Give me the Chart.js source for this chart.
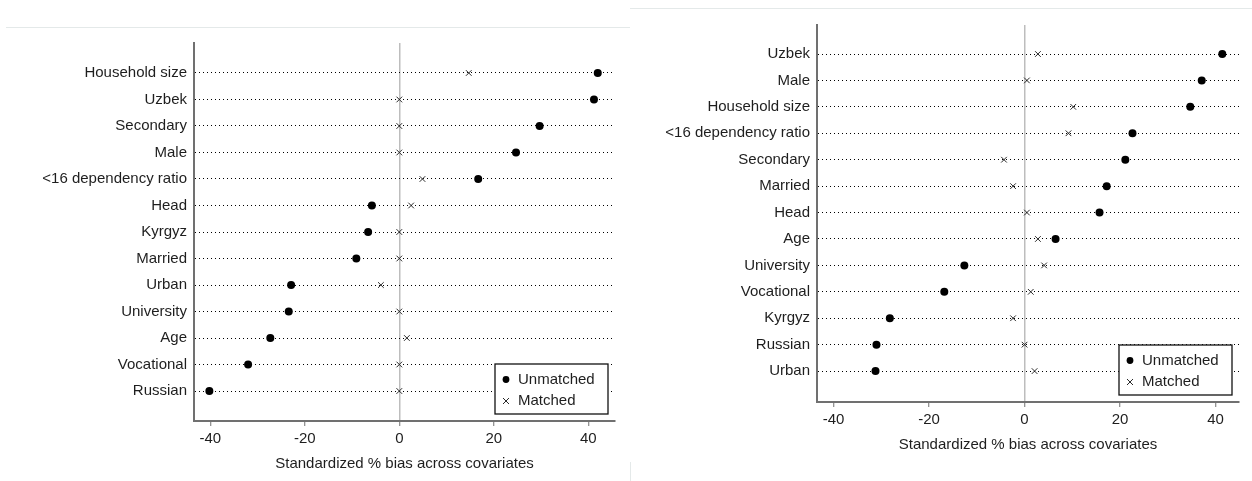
<!DOCTYPE html>
<html>
<head>
<meta charset="utf-8">
<script src="https://cdn.jsdelivr.net/npm/chart.js@4/dist/chart.umd.min.js"></script>
<style>
  html, body { margin: 0; padding: 0; background: #fff; }
  body { width: 1252px; height: 481px; position: relative; overflow: hidden; }
  .panel { position: absolute; top: 0; height: 481px; }
  #leftPanel { left: 0; width: 630px; }
  #rightPanel { left: 630px; width: 622px; }
  .rule { position: absolute; background: #e4e9e9; }
</style>
</head>
<body>
<div class="rule" style="left:6px;top:27px;width:624px;height:1px"></div>
<div class="rule" style="left:630px;top:8px;width:622px;height:1px"></div>
<div class="rule" style="left:630px;top:462px;width:1px;height:19px"></div>
<div class="panel" id="leftPanel"><canvas id="leftChart" width="630" height="481"></canvas></div>
<div class="panel" id="rightPanel"><canvas id="rightChart" width="622" height="481"></canvas></div>

<script>
// Standardized % bias per covariate, before (unmatched) and after (matched) matching.
const seriesNames = ['Unmatched', 'Matched'];
const xTickValues = [-40, -20, 0, 20, 40];
const axisTitle = 'Standardized % bias across covariates';

// First sample
const leftCovariates = ['Household size', 'Uzbek', 'Secondary', 'Male', '<16 dependency ratio', 'Head',
  'Kyrgyz', 'Married', 'Urban', 'University', 'Age', 'Vocational', 'Russian'];
const leftUnmatched = [42.0, 41.2, 29.7, 24.7, 16.7, -5.8, -6.6, -9.1, -22.9, -23.4, -27.3, -32.0, -40.2];
const leftMatched   = [14.7, 0.0, 0.0, 0.0, 4.9, 2.5, 0.0, 0.0, -3.9, 0.0, 1.6, 0.0, 0.0];

// Second sample
const rightCovariates = ['Uzbek', 'Male', 'Household size', '<16 dependency ratio', 'Secondary', 'Married',
  'Head', 'Age', 'University', 'Vocational', 'Kyrgyz', 'Russian', 'Urban'];
const rightUnmatched = [41.4, 37.1, 34.7, 22.6, 21.1, 17.2, 15.7, 6.5, -12.6, -16.8, -28.2, -31.0, -31.2];
const rightMatched   = [2.8, 0.5, 10.2, 9.2, -4.3, -2.4, 0.5, 2.8, 4.1, 1.3, -2.4, 0.0, 2.1];

const FONT = 'Arial, "Liberation Sans", sans-serif';
const FONT_SIZE = 15;
const TEXT = '#1e1e1e';
const AXIS = '#707070';

// Boxed legend drawn in the lower-right corner of the plot area
const cornerLegend = {
  id: 'cornerLegend',
  afterDraw(chart) {
    const { ctx, chartArea } = chart;
    const w = 113, h = 50;
    const x0 = chartArea.right - 7 - w;
    const y0 = chartArea.bottom - 7 - h;
    ctx.save();
    ctx.fillStyle = '#fff';
    ctx.fillRect(x0, y0, w, h);
    ctx.strokeStyle = '#111';
    ctx.lineWidth = 1.3;
    ctx.strokeRect(x0, y0, w, h);
    ctx.font = FONT_SIZE + 'px ' + FONT;
    ctx.textBaseline = 'middle';
    chart.data.datasets.forEach((ds, i) => {
      const cy = y0 + 15.5 + i * 21.5;
      const cx = x0 + 11;
      ctx.fillStyle = ds.pointBackgroundColor;
      ctx.strokeStyle = ds.pointBorderColor;
      ctx.lineWidth = ds.pointBorderWidth;
      ctx.beginPath();
      if (ds.pointStyle === 'circle') {
        ctx.arc(cx, cy, 3.4, 0, Math.PI * 2);
        ctx.fill();
      } else {
        ctx.moveTo(cx - 3, cy - 3); ctx.lineTo(cx + 3, cy + 3);
        ctx.moveTo(cx + 3, cy - 3); ctx.lineTo(cx - 3, cy + 3);
        ctx.stroke();
      }
      ctx.fillStyle = TEXT;
      ctx.fillText(ds.label, x0 + 23, cy);
    });
    ctx.restore();
  }
};

function buildChart(canvasId, covariates, unmatched, matched, layout) {
  const toPoints = (vals) => vals.map((v, i) => ({ x: v, y: i }));
  return new Chart(document.getElementById(canvasId), {
    type: 'scatter',
    data: {
      datasets: [
        {
          label: seriesNames[0],
          data: toPoints(unmatched),
          pointStyle: 'circle',
          pointRadius: 4,
          pointBackgroundColor: '#000',
          pointBorderColor: '#000',
          pointBorderWidth: 0
        },
        {
          label: seriesNames[1],
          data: toPoints(matched),
          pointStyle: 'crossRot',
          pointRadius: 4,
          pointBackgroundColor: '#2a2a2a',
          pointBorderColor: '#2a2a2a',
          pointBorderWidth: 1
        }
      ]
    },
    options: {
      responsive: false,
      animation: false,
      events: [],
      layout: { padding: layout.padding },
      plugins: { legend: { display: false }, tooltip: { enabled: false } },
      scales: {
        x: {
          type: 'linear',
          min: layout.xMin,
          max: layout.xMax,
          afterFit: (s) => { s.height = 60; },
          afterBuildTicks: (s) => { s.ticks = xTickValues.map(v => ({ value: v })); },
          ticks: {
            padding: 4,
            color: TEXT,
            font: { family: FONT, size: FONT_SIZE },
            callback: (v) => String(v)
          },
          grid: {
            color: (c) => (c.tick && c.tick.value === 0) ? '#bdbdbd' : 'rgba(0,0,0,0)',
            lineWidth: 1.5,
            tickColor: AXIS,
            tickLength: 5,
            tickWidth: 1
          },
          border: { color: AXIS, width: 2 },
          title: {
            display: true,
            text: axisTitle,
            color: TEXT,
            font: { family: FONT, size: FONT_SIZE },
            padding: { top: 0, bottom: 8 }
          }
        },
        y: {
          type: 'linear',
          reverse: true,
          min: layout.yMin,
          max: layout.yMax,
          afterFit: (s) => { s.width = layout.yWidth; },
          afterBuildTicks: (s) => { s.ticks = covariates.map((_, i) => ({ value: i })); },
          ticks: {
            padding: 7,
            color: TEXT,
            font: { family: FONT, size: FONT_SIZE },
            callback: (v) => covariates[v]
          },
          grid: {
            color: '#000',
            lineWidth: 1,
            drawTicks: false
          },
          border: { color: AXIS, width: 2, dash: [1, 3] }
        }
      }
    },
    plugins: [cornerLegend]
  });
}

buildChart('leftChart', leftCovariates, leftUnmatched, leftMatched, {
  padding: { left: 0, top: 43, right: 15, bottom: 0 },
  yWidth: 194, xMin: -43.45, xMax: 45.65, yMin: -1.132, yMax: 13.132
});

buildChart('rightChart', rightCovariates, rightUnmatched, rightMatched, {
  padding: { left: 0, top: 25, right: 13, bottom: 19 },
  yWidth: 187, xMin: -43.45, xMax: 44.9, yMin: -1.098, yMax: 13.17
});
</script>
</body>
</html>
